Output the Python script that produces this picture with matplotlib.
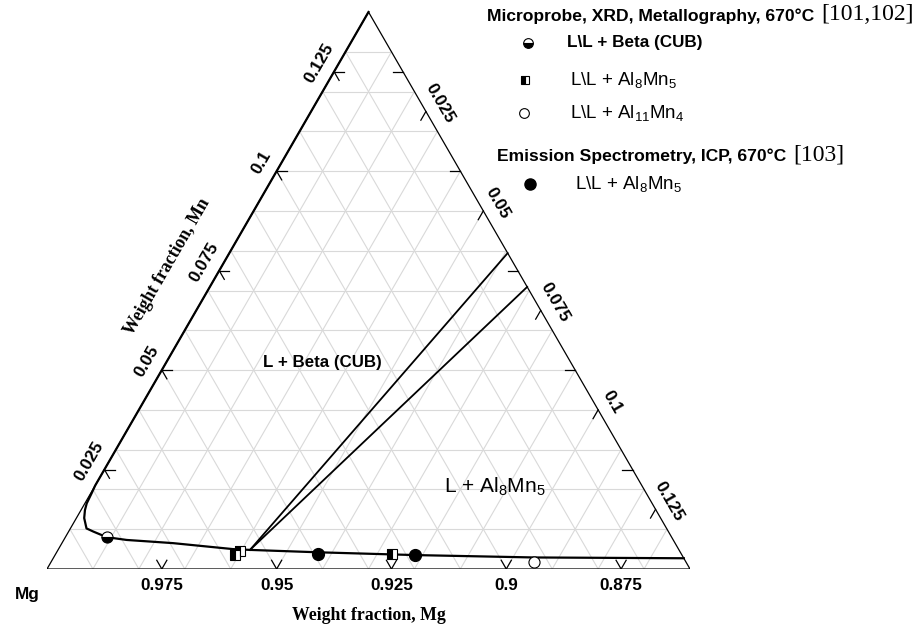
import numpy as np
import matplotlib.pyplot as plt

plt.rcParams['font.family'] = ['Liberation Sans', 'DejaVu Sans']
plt.rcParams['mathtext.fontset'] = 'custom'
plt.rcParams['mathtext.rm'] = 'Liberation Sans'
plt.rcParams['mathtext.it'] = 'Liberation Sans:italic'
plt.rcParams['mathtext.bf'] = 'Liberation Sans:bold'

# Ternary window: Mg 0.86..1, Mn 0..0.14, Al 0..0.14 (weight fractions)
SPAN = 0.14
H = np.sqrt(3) / 2

# liquidus curve (Al, Mn), apex -> right edge
curve_al = [0.0, 0.0, 0.0002, 0.0004, 0.00086, 0.0017, 0.0035, 0.0054, 0.0090,
            0.0137, 0.0190, 0.0242, 0.0380, 0.0418, 0.0569, 0.0784, 0.1046, 0.1373]
curve_mn = [0.14, 0.021, 0.0190, 0.0165, 0.0148, 0.0128, 0.0102, 0.0094, 0.0080,
            0.0073, 0.0069, 0.0065, 0.0050, 0.0048, 0.0042, 0.0035, 0.0029, 0.0027]

# tie lines L + Beta / L + Al8Mn5 (Al, Mn)
tie_al = [[0.0418, 0.0606], [0.0418, 0.0691]]
tie_mn = [[0.0048, 0.0794], [0.0048, 0.0709]]

# experimental points (Al, Mn)
beta_al, beta_mn = [0.0090], [0.0080]
al8mn5_al, al8mn5_mn = [0.0392, 0.0398, 0.0732], [0.0035, 0.0045, 0.0038]
al11mn4_al, al11mn4_mn = [0.1052], [0.0018]
icp_al, icp_mn = [0.0571, 0.0784], [0.0038, 0.0035]

tick_vals = [0.025, 0.05, 0.075, 0.1, 0.125]


def xy(al, mn):
    al = np.asarray(al, float)
    mn = np.asarray(mn, float)
    return al + mn / 2, mn * H


fig = plt.figure(figsize=(9.23, 6.25), dpi=100)
W, HP = 923, 625
ax = fig.add_axes([47 / W, 56 / HP, 643 / W, 557 / HP])
ax.set_xlim(0, SPAN)
ax.set_ylim(0, SPAN * H)
ax.axis('off')

grid_kw = dict(color='#d9d9d9', lw=0.8, zorder=1)
for v in np.arange(0.01, SPAN - 1e-9, 0.01):
    ax.plot(*xy([0, SPAN - v], [v, v]), **grid_kw)      # const Mn
    ax.plot(*xy([v, v], [0, SPAN - v]), **grid_kw)      # const Al
    ax.plot(*xy([v, 0], [0, v]), **grid_kw)             # const Mg

# triangle frame
ax.plot(*xy([0, SPAN, 0, 0], [0, 0, SPAN, 0]), color='black', lw=0.9, zorder=2)

# ticks: short segments at both ends of the constant lines
L = 0.0022
tk = dict(color='black', lw=0.9, zorder=2)
for t in tick_vals:
    ax.plot(*xy([0, L], [t, t]), **tk)
    ax.plot(*xy([SPAN - t, SPAN - t - L], [t, t]), **tk)
    ax.plot(*xy([t, t], [0, L]), **tk)
    ax.plot(*xy([t, t], [SPAN - t, SPAN - t - L]), **tk)
    ax.plot(*xy([t, t - L], [0, L]), **tk)
    ax.plot(*xy([0, L], [t, t - L]), **tk)

    ax.annotate(f"{1 - t:g}", xy(t, 0), xytext=(0, -17), textcoords='offset pixels',
                ha='center', va='center', fontsize=12.3, fontweight='bold')
    ax.annotate(f"{t:g}", xy(0, t), xytext=(-17 * H, 17 * 0.5), textcoords='offset pixels',
                ha='center', va='center', rotation=60, fontsize=12.3, fontweight='bold')
    ax.annotate(f"{t:g}", xy(t, SPAN - t), xytext=(16 * H, 16 * 0.5), textcoords='offset pixels',
                ha='center', va='center', rotation=-60, fontsize=12.3, fontweight='bold')

ax.annotate("Weight fraction, Mg", xy(SPAN / 2, 0), xytext=(0, -46), textcoords='offset pixels',
            ha='center', va='center', fontsize=12.8, fontweight='bold', family='Liberation Serif')
ax.annotate("Weight fraction, Mn", xy(0, SPAN / 2), xytext=(-47 * H, 47 * 0.5),
            textcoords='offset pixels', ha='center', va='center', rotation=60,
            fontsize=12.8, fontweight='bold', family='Liberation Serif')
ax.annotate("Mg", xy(0, 0), xytext=(-20, -25), textcoords='offset pixels',
            ha='center', va='center', fontsize=12.3, fontweight='bold')

# phase boundaries
ax.plot(*xy(curve_al, curve_mn), color='black', lw=1.6, zorder=3, clip_on=False)
for a, m in zip(tie_al, tie_mn):
    ax.plot(*xy(a, m), color='black', lw=1.3, zorder=3)

ax.text(*xy(0.034, 0.0518), "L + Beta (CUB)", ha='center', va='center',
        fontsize=12.2, fontweight='bold', zorder=4)
ax.text(*xy(0.0872, 0.0206), "L + Al$_8$Mn$_5$", ha='center', va='center',
        fontsize=15, zorder=4)

# data points
ax.plot(*xy(beta_al, beta_mn), 'o', ms=8, mfc='black', mfcalt='white', mec='black',
        fillstyle='bottom', mew=0.8, zorder=5, clip_on=False)
ax.plot(*xy(al8mn5_al, al8mn5_mn), 's', ms=6.8, mfc='black', mfcalt='white', mec='black',
        fillstyle='left', mew=0.8, zorder=5, clip_on=False)
ax.plot(*xy(al11mn4_al, al11mn4_mn), 'o', ms=8, mfc='white', mec='black', mew=0.8,
        zorder=5, clip_on=False)
ax.plot(*xy(icp_al, icp_mn), 'o', ms=8.5, color='black', zorder=5, clip_on=False)

# legend in a pixel-coordinate overlay
lg = fig.add_axes([0, 0, 1, 1])
lg.set_xlim(0, W)
lg.set_ylim(HP, 0)
lg.axis('off')
lg.patch.set_alpha(0)

hdr1 = lg.text(487, 16.5, "Microprobe, XRD, Metallography, 670°C", ha='left', va='center',
               fontsize=12.6, fontweight='bold')
hdr2 = lg.text(497, 156, "Emission Spectrometry, ICP, 670°C", ha='left', va='center',
               fontsize=12.6, fontweight='bold')
fig.canvas.draw()
rend = fig.canvas.get_renderer()
for hdr, ref, yy in [(hdr1, "[101,102]", 15), (hdr2, "[103]", 155)]:
    bb = hdr.get_window_extent(rend)
    lg.text(bb.x1 + 7, yy, ref, ha='left', va='center', fontsize=17, family='Liberation Serif')

lg.plot([528], [43], 'o', ms=7, mfc='black', mfcalt='white', mec='black', fillstyle='bottom', mew=0.8)
lg.text(567, 43, r"L\L + Beta (CUB)", ha='left', va='center', fontsize=12.3, fontweight='bold')
lg.plot([525], [80], 's', ms=6, mfc='black', mfcalt='white', mec='black', fillstyle='left', mew=0.8)
lg.text(570, 80, r"L\L + Al$_8$Mn$_5$", ha='left', va='center', fontsize=13.5)
lg.plot([524], [113], 'o', ms=7, mfc='white', mec='black', mew=0.8)
lg.text(570, 113, r"L\L + Al$_{11}$Mn$_4$", ha='left', va='center', fontsize=13.5)
lg.plot([530], [184], 'o', ms=8, color='black')
lg.text(575, 184, r"L\L + Al$_8$Mn$_5$", ha='left', va='center', fontsize=13.5)

fig.savefig('out.png', dpi=100)
